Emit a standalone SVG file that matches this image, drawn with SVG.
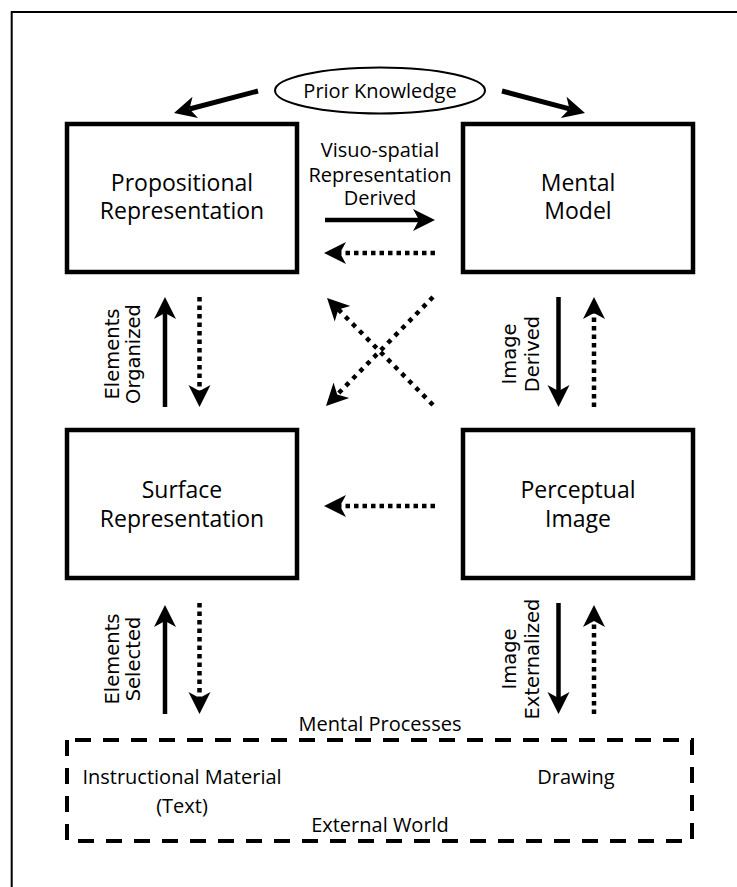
<svg xmlns="http://www.w3.org/2000/svg" width="737" height="887" viewBox="0 0 737 887">
<style>
.box{fill:#fff;stroke:#000;stroke-width:4.5}
.lbl{font-family:'Open Sans','Liberation Sans',sans-serif;font-size:23px;fill:#000;text-anchor:middle}
.sm{font-family:'Open Sans','Liberation Sans',sans-serif;font-size:20px;fill:#000;text-anchor:middle}
.rot{font-family:'DejaVu Sans','Liberation Sans',sans-serif;font-size:19.5px;fill:#000;text-anchor:middle}
.solid{fill:none;stroke:#000;stroke-width:4.5;marker-end:url(#ah)}
.thick{fill:none;stroke:#000;stroke-width:5;marker-end:url(#ah)}
.dot{fill:none;stroke:#000;stroke-width:4.5;stroke-dasharray:4.5 4;marker-end:url(#ah)}
.ddot{fill:none;stroke:#000;stroke-width:4.5;stroke-dasharray:4.5 5.5;marker-end:url(#ah)}
</style>
<defs>
<marker id="ah" markerUnits="userSpaceOnUse" viewBox="0 0 24 24" markerWidth="24" markerHeight="24" refX="6" refY="12" orient="auto">
<path d="M0,1 L22,12 L0,23 L6,12 Z" fill="#000"/>
</marker>
</defs>
<rect x="0" y="0" width="737" height="887" fill="#fff"/>
<path d="M11.7,887 V12 H737" fill="none" stroke="#000" stroke-width="2"/>

<g id="prior-knowledge">
<ellipse cx="380" cy="90.5" rx="105" ry="23" fill="#fff" stroke="#000" stroke-width="2"/>
<text class="sm" x="380" y="98">Prior Knowledge</text>
</g>
<g id="propositional">
<rect class="box" x="67" y="124" width="230" height="148"/>
<text class="lbl" x="182" y="191">Propositional</text>
<text class="lbl" x="182" y="219">Representation</text>
</g>
<g id="mental-model">
<rect class="box" x="463" y="124" width="230" height="148"/>
<text class="lbl" x="578" y="191">Mental</text>
<text class="lbl" x="578" y="219">Model</text>
</g>
<g id="surface">
<rect class="box" x="67" y="430" width="230" height="148"/>
<text class="lbl" x="182" y="498">Surface</text>
<text class="lbl" x="182" y="527">Representation</text>
</g>
<g id="perceptual">
<rect class="box" x="463" y="430" width="230" height="148"/>
<text class="lbl" x="578" y="498">Perceptual</text>
<text class="lbl" x="578" y="527">Image</text>
</g>
<g id="external-world">
<path d="M67,740 V841 H692 V740 Z" fill="none" stroke="#000" stroke-width="4" stroke-dasharray="16 12"/>
<text class="sm" x="380" y="731">Mental Processes</text>
<text class="sm" x="182" y="784">Instructional Material</text>
<text class="sm" x="182" y="813">(Text)</text>
<text class="sm" x="576" y="784">Drawing</text>
<text class="sm" x="380" y="832">External World</text>
</g>

<g id="connectors">
<path class="thick" d="M258,91 L189.5,109"/>
<path class="thick" d="M502,91 L569.5,108.9"/>
<path class="solid" d="M325,220 H419"/>
<path class="dot" d="M435,253 H340"/>
<path class="solid" d="M165,407 V313"/>
<path class="dot" d="M199.5,297 V391"/>
<path class="solid" d="M558.5,297 V391"/>
<path class="dot" d="M594,407 V313"/>
<path class="ddot" d="M433,405 L338.3,309.4"/>
<path class="ddot" d="M433,297 L337.2,394.6"/>
<path class="dot" d="M435,506 H340"/>
<path class="solid" d="M165,714 V621"/>
<path class="dot" d="M199.5,603 V698"/>
<path class="solid" d="M558.5,603 V698"/>
<path class="dot" d="M594,714 V621"/>
</g>

<g id="connector-labels">
<text class="sm" x="380" y="157">Visuo-spatial</text>
<text class="sm" x="380" y="181.5">Representation</text>
<text class="sm" x="380" y="205">Derived</text>
<text class="rot" transform="translate(119,354) rotate(-90)">Elements</text>
<text class="rot" transform="translate(140,354) rotate(-90)">Organized</text>
<text class="rot" transform="translate(516,354) rotate(-90)">Image</text>
<text class="rot" transform="translate(539,354) rotate(-90)">Derived</text>
<text class="rot" transform="translate(119,659) rotate(-90)">Elements</text>
<text class="rot" transform="translate(140,659) rotate(-90)">Selected</text>
<text class="rot" transform="translate(516,659) rotate(-90)">Image</text>
<text class="rot" transform="translate(539,659) rotate(-90)">Externalized</text>
</g>
</svg>
